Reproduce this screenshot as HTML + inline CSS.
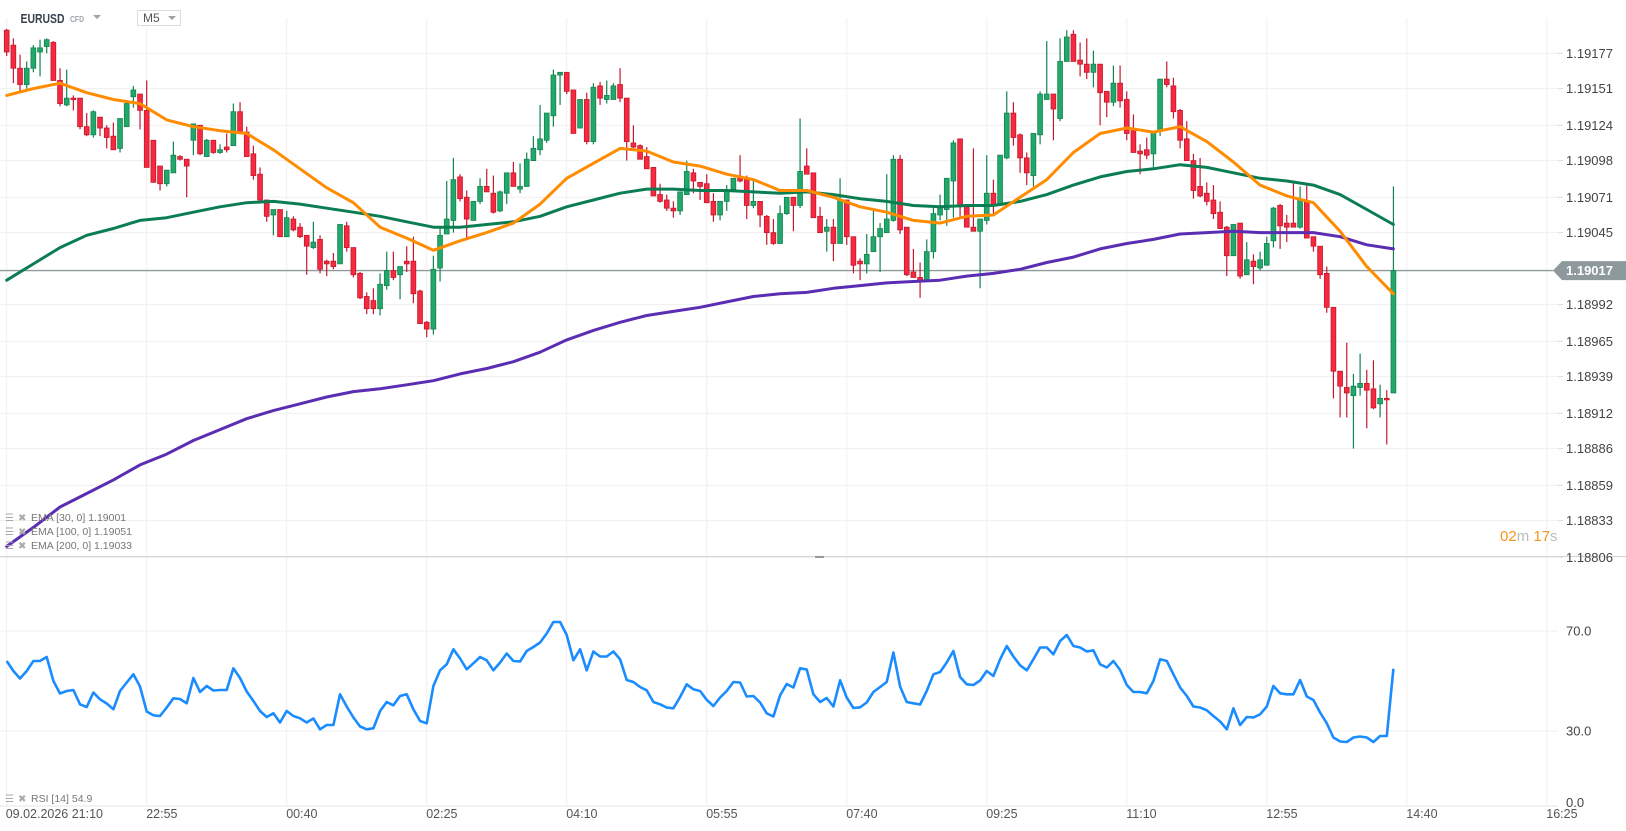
<!DOCTYPE html>
<html><head><meta charset="utf-8">
<style>
html,body{margin:0;padding:0;background:#fff;}
svg{display:block;font-family:"Liberation Sans",sans-serif;}
</style></head>
<body>
<svg id="chart" width="1626" height="831" viewBox="0 0 1626 831" xmlns="http://www.w3.org/2000/svg">
  <rect x="0" y="0" width="1626" height="831" fill="#fff"/>
  <g id="grid"></g>
  <g id="candles" clip-path="url(#mainClip)"></g>
  <g id="emas" clip-path="url(#mainClip)"></g>
  <g id="rsi"></g>
  <g id="axes"></g>
  <defs><clipPath id="mainClip"><rect x="0" y="18" width="1558" height="538"/></clipPath></defs>

  <g>
    <text x="20.5" y="23" font-size="13" font-weight="bold" fill="#37424d" textLength="44" lengthAdjust="spacingAndGlyphs">EURUSD</text>
    <text x="70" y="22" font-size="8" font-weight="bold" fill="#9aa3aa" textLength="14" lengthAdjust="spacingAndGlyphs">CFD</text>
    <path d="M93 15 L101 15 L97 19 Z" fill="#9aa3aa"/>
    <rect x="137.5" y="10.5" width="43" height="15" fill="#fff" stroke="#dcdcdc"/>
    <text x="143" y="22" font-size="12" fill="#555">M5</text>
    <path d="M168 16 L176 16 L172 20 Z" fill="#9aa3aa"/>
  </g>

  <g font-size="10.5" fill="#777">
    <g>
      <text x="5" y="521" font-size="10" fill="#aaa">☰</text><text x="18" y="521" font-size="10" fill="#aaa">✖</text>
      <text x="31" y="521">EMA [30,  0] 1.19001</text></g>
    <g>
      <text x="5" y="535" font-size="10" fill="#aaa">☰</text><text x="18" y="535" font-size="10" fill="#aaa">✖</text>
      <text x="31" y="535">EMA [100,  0] 1.19051</text></g>
    <g>
      <text x="5" y="549" font-size="10" fill="#aaa">☰</text><text x="18" y="549" font-size="10" fill="#aaa">✖</text>
      <text x="31" y="549">EMA [200,  0] 1.19033</text></g>
  </g>
  <g font-size="10.5" fill="#777">
    <text x="5" y="802" font-size="10" fill="#aaa">☰</text><text x="18" y="802" font-size="10" fill="#aaa">✖</text>
    <text x="31" y="802">RSI [14]  54.9</text>
  </g>

  <g font-size="15">
    <text x="1500" y="541"><tspan fill="#f7931e">02</tspan><tspan fill="#bbb">m </tspan><tspan fill="#f7931e">17</tspan><tspan fill="#bbb">s</tspan></text>
  </g>
</svg>
<script>
const priceTicks = [1.19177,1.19151,1.19124,1.19098,1.19071,1.19045,1.18992,1.18965,1.18939,1.18912,1.18886,1.18859,1.18833,1.18806];
const timeLabels = ["09.02.2026  21:10","22:55","00:40","02:25","04:10","05:55","07:40","09:25","11:10","12:55","14:40","16:25"];
const timeLabelBars = [0,21,42,63,84,105,126,147,168,189,210,231];
const rsiTicks = [70,30,0];
const lastPrice = 1.19017;

const open = [
1.19194,1.19183,1.19166,1.19154,1.19166,1.19178,1.19182,1.19185,1.19157,1.19139,
1.19144,1.19144,1.19123,1.19117,1.19130,1.19122,1.19116,1.19107,1.19123,1.19145,
1.19147,1.19135,1.19113,1.19094,1.19081,1.19089,1.19101,1.19099,1.19113,1.19124,
1.19101,1.19113,1.19104,1.19108,1.19109,1.19134,1.19119,1.19103,1.19088,1.19069,
1.19058,1.19062,1.19042,1.19055,1.19049,1.19043,1.19034,1.19040,1.19024,1.19024,
1.19022,1.19050,1.19034,1.19015,1.18998,1.18995,1.18989,1.19006,1.19017,1.19014,
1.19024,1.19024,1.19002,1.18979,1.18974,1.19019,1.19044,1.19054,1.19086,1.19071,
1.19054,1.19068,1.19079,1.19074,1.19061,1.19074,1.19089,1.19077,1.19079,1.19098,
1.19106,1.19113,1.19131,1.19161,1.19163,1.19150,1.19122,1.19143,1.19112,1.19153,
1.19143,1.19143,1.19154,1.19144,1.19111,1.19109,1.19101,1.19093,1.19073,1.19069,
1.19063,1.19061,1.19073,1.19089,1.19082,1.19081,1.19068,1.19058,1.19068,1.19077,
1.19085,1.19085,1.19065,1.19068,1.19057,1.19045,1.19037,1.19059,1.19071,1.19065,
1.19094,1.19089,1.19057,1.19046,1.19049,1.19037,1.19069,1.19042,1.19024,1.19022,
1.19031,1.19042,1.19045,1.19054,1.19099,1.19049,1.19016,1.19012,1.19009,1.19031,
1.19058,1.19062,1.19083,1.19114,1.19064,1.19049,1.19046,1.19054,1.19074,1.19065,
1.19100,1.19133,1.19117,1.19100,1.19087,1.19117,1.19143,1.19147,1.19129,1.19171,
1.19191,1.19172,1.19169,1.19163,1.19169,1.19149,1.19141,1.19155,1.19143,1.19120,
1.19105,1.19106,1.19103,1.19120,1.19158,1.19153,1.19135,1.19114,1.19098,1.19079,
1.19074,1.19069,1.19060,1.19049,1.19028,1.19052,1.19014,1.19024,1.19019,1.19021,
1.19039,1.19065,1.19052,1.19052,1.19049,1.19068,1.19042,1.19035,1.19015,1.18990,
1.18943,1.18931,1.18925,1.18931,1.18934,1.18930,1.18919,1.18923,1.18927];
const high = [
1.19195,1.19188,1.19176,1.19171,1.19183,1.19187,1.19188,1.19186,1.19166,1.19165,
1.19146,1.19144,1.19133,1.19135,1.19130,1.19124,1.19126,1.19129,1.19142,1.19153,
1.19147,1.19157,1.19113,1.19094,1.19091,1.19112,1.19102,1.19099,1.19125,1.19124,
1.19114,1.19113,1.19110,1.19118,1.19140,1.19141,1.19123,1.19109,1.19093,1.19069,
1.19062,1.19062,1.19061,1.19057,1.19052,1.19043,1.19053,1.19043,1.19025,1.19030,
1.19051,1.19053,1.19034,1.19016,1.19001,1.19004,1.19015,1.19031,1.19031,1.19020,
1.19035,1.19042,1.19003,1.18980,1.19028,1.19048,1.19083,1.19100,1.19088,1.19076,
1.19068,1.19085,1.19092,1.19087,1.19076,1.19089,1.19097,1.19096,1.19104,1.19116,
1.19139,1.19133,1.19165,1.19163,1.19163,1.19150,1.19143,1.19148,1.19155,1.19156,
1.19157,1.19155,1.19166,1.19144,1.19124,1.19110,1.19108,1.19093,1.19081,1.19073,
1.19068,1.19075,1.19098,1.19092,1.19082,1.19088,1.19074,1.19068,1.19080,1.19085,
1.19102,1.19087,1.19083,1.19068,1.19058,1.19055,1.19065,1.19071,1.19071,1.19129,
1.19107,1.19089,1.19064,1.19055,1.19055,1.19085,1.19069,1.19042,1.19026,1.19044,
1.19063,1.19052,1.19088,1.19102,1.19102,1.19049,1.19033,1.19023,1.19040,1.19065,
1.19073,1.19085,1.19113,1.19114,1.19064,1.19107,1.19055,1.19102,1.19084,1.19102,
1.19149,1.19141,1.19118,1.19104,1.19118,1.19149,1.19186,1.19147,1.19188,1.19194,
1.19194,1.19185,1.19188,1.19179,1.19169,1.19149,1.19168,1.19168,1.19149,1.19132,
1.19110,1.19115,1.19120,1.19158,1.19171,1.19159,1.19136,1.19127,1.19103,1.19100,
1.19082,1.19080,1.19068,1.19050,1.19051,1.19052,1.19038,1.19029,1.19031,1.19042,
1.19064,1.19066,1.19058,1.19083,1.19079,1.19081,1.19042,1.19035,1.19020,1.18990,
1.18943,1.18964,1.18941,1.18956,1.18944,1.18951,1.18933,1.18929,1.19079];
const low = [
1.19175,1.19155,1.19149,1.19151,1.19163,1.19160,1.19177,1.19157,1.19138,1.19138,
1.19135,1.19121,1.19116,1.19115,1.19116,1.19107,1.19106,1.19104,1.19123,1.19137,
1.19121,1.19093,1.19082,1.19076,1.19079,1.19089,1.19098,1.19071,1.19102,1.19102,
1.19101,1.19103,1.19103,1.19104,1.19109,1.19118,1.19101,1.19084,1.19069,1.19053,
1.19043,1.19042,1.19042,1.19046,1.19041,1.19014,1.19033,1.19015,1.19013,1.19018,
1.19022,1.19031,1.19012,1.18996,1.18985,1.18985,1.18984,1.19003,1.19010,1.18996,
1.19016,1.18993,1.18978,1.18968,1.18970,1.19009,1.19044,1.19045,1.19068,1.19041,
1.19054,1.19066,1.19075,1.19059,1.19060,1.19066,1.19079,1.19074,1.19079,1.19098,
1.19102,1.19111,1.19123,1.19139,1.19147,1.19118,1.19122,1.19110,1.19110,1.19139,
1.19140,1.19143,1.19141,1.19098,1.19107,1.19099,1.19092,1.19072,1.19067,1.19061,
1.19056,1.19058,1.19073,1.19074,1.19069,1.19067,1.19053,1.19054,1.19061,1.19077,
1.19082,1.19055,1.19063,1.19049,1.19036,1.19036,1.19037,1.19058,1.19046,1.19063,
1.19088,1.19056,1.19045,1.19031,1.19024,1.19037,1.19036,1.19015,1.19010,1.19015,
1.19031,1.19016,1.19045,1.19053,1.19044,1.19013,1.19012,1.18997,1.19009,1.19026,
1.19054,1.19050,1.19056,1.19056,1.19049,1.19046,1.19004,1.19051,1.19059,1.19065,
1.19099,1.19109,1.19089,1.19080,1.19079,1.19110,1.19143,1.19113,1.19127,1.19171,
1.19171,1.19160,1.19158,1.19152,1.19124,1.19130,1.19138,1.19137,1.19113,1.19104,
1.19088,1.19099,1.19093,1.19116,1.19152,1.19129,1.19107,1.19098,1.19070,1.19071,
1.19065,1.19055,1.19048,1.19013,1.19028,1.19011,1.19014,1.19007,1.19017,1.19021,
1.19034,1.19033,1.19038,1.19049,1.19048,1.19041,1.19031,1.19011,1.18986,1.18923,
1.18909,1.18909,1.18886,1.18925,1.18901,1.18915,1.18909,1.18889,1.18927];
const close = [
1.19178,1.19166,1.19154,1.19166,1.19181,1.19181,1.19187,1.19157,1.19140,1.19144,
1.19143,1.19123,1.19117,1.19134,1.19122,1.19115,1.19106,1.19129,1.19140,1.19150,
1.19135,1.19093,1.19082,1.19081,1.19091,1.19102,1.19099,1.19094,1.19125,1.19103,
1.19113,1.19104,1.19106,1.19106,1.19134,1.19119,1.19101,1.19087,1.19069,1.19057,
1.19062,1.19042,1.19056,1.19047,1.19042,1.19035,1.19038,1.19018,1.19022,1.19020,
1.19051,1.19034,1.19014,1.18997,1.18989,1.18989,1.19007,1.19017,1.19012,1.19020,
1.19022,1.19000,1.18978,1.18974,1.19018,1.19043,1.19055,1.19084,1.19070,1.19055,
1.19068,1.19079,1.19075,1.19060,1.19075,1.19089,1.19079,1.19079,1.19099,1.19107,
1.19114,1.19133,1.19161,1.19163,1.19149,1.19118,1.19143,1.19112,1.19152,1.19144,
1.19146,1.19153,1.19144,1.19112,1.19108,1.19099,1.19092,1.19072,1.19068,1.19063,
1.19061,1.19075,1.19090,1.19083,1.19079,1.19067,1.19058,1.19068,1.19076,1.19085,
1.19083,1.19065,1.19068,1.19058,1.19045,1.19037,1.19059,1.19071,1.19065,1.19090,
1.19088,1.19056,1.19045,1.19049,1.19037,1.19069,1.19042,1.19021,1.19022,1.19029,
1.19042,1.19048,1.19055,1.19099,1.19047,1.19014,1.19012,1.19010,1.19031,1.19059,
1.19063,1.19085,1.19111,1.19064,1.19049,1.19046,1.19055,1.19074,1.19065,1.19102,
1.19133,1.19115,1.19100,1.19089,1.19118,1.19147,1.19147,1.19136,1.19171,1.19189,
1.19171,1.19169,1.19163,1.19169,1.19148,1.19141,1.19155,1.19142,1.19118,1.19104,
1.19103,1.19102,1.19119,1.19158,1.19154,1.19134,1.19113,1.19098,1.19076,1.19072,
1.19068,1.19059,1.19048,1.19028,1.19051,1.19013,1.19025,1.19020,1.19025,1.19037,
1.19063,1.19050,1.19049,1.19049,1.19069,1.19041,1.19035,1.19014,1.18990,1.18943,
1.18932,1.18927,1.18932,1.18934,1.18929,1.18916,1.18923,1.18922,1.19017];

const emaBars = [0,4,8,12,16,20,24,28,32,36,40,44,48,52,56,60,64,68,72,76,80,84,88,92,96,100,104,108,112,116,120,124,128,132,136,140,144,148,152,156,160,164,168,172,176,180,184,188,192,196,200,204,208];
const ema30 = [1.19146,1.19151,1.19155,1.19148,1.19143,1.19140,1.19128,1.19123,1.19120,1.19118,
1.19106,1.19092,1.19078,1.19067,1.19049,1.19041,1.19032,1.19039,1.19045,1.19052,
1.19066,1.19085,1.19096,1.19107,1.19105,1.19097,1.19094,1.19088,1.19084,1.19076,
1.19076,1.19071,1.19064,1.19060,1.19054,1.19052,1.19057,1.19058,1.19071,1.19084,
1.19104,1.19118,1.19122,1.19119,1.19123,1.19112,1.19097,1.19080,1.19072,1.19067,
1.19046,1.19020,1.19000];
const ema100 = [1.19010,1.19022,1.19034,1.19043,1.19048,1.19054,1.19056,1.19060,1.19064,1.19067,
1.19068,1.19066,1.19063,1.19060,1.19057,1.19053,1.19049,1.19049,1.19051,1.19053,
1.19057,1.19064,1.19069,1.19074,1.19077,1.19077,1.19076,1.19076,1.19075,1.19074,
1.19075,1.19073,1.19070,1.19068,1.19065,1.19064,1.19065,1.19065,1.19068,1.19073,
1.19080,1.19086,1.19090,1.19092,1.19095,1.19093,1.19089,1.19085,1.19083,1.19080,
1.19073,1.19062,1.19051];
const ema200 = [1.18814,1.18828,1.18843,1.18853,1.18863,1.18874,1.18882,1.18892,1.18900,1.18908,
1.18914,1.18919,1.18924,1.18928,1.18930,1.18933,1.18936,1.18941,1.18945,1.18950,
1.18957,1.18966,1.18973,1.18979,1.18984,1.18987,1.18990,1.18994,1.18998,1.19000,
1.19001,1.19004,1.19006,1.19008,1.19009,1.19010,1.19013,1.19015,1.19018,1.19023,
1.19027,1.19033,1.19037,1.19040,1.19044,1.19045,1.19046,1.19045,1.19045,1.19045,
1.19042,1.19036,1.19033];

const rsi = [58,54,51,54,58,58,59.6,50,45,46,
46.4,40.7,39.6,45.4,42.7,41,38.7,46,49.4,52.7,
47.8,37.8,36.3,36,39.4,43.1,42.8,41.1,51.2,45.6,
48,46.2,46.4,46.4,55.1,51.2,45.8,42,38,35.6,
37.1,33.4,38,36,35.1,33.4,35,30.7,32.4,32.4,
44.7,39.8,35.4,31.8,30.7,31.1,38,41.6,40.3,44,
44.7,38.7,34,33.1,48,54.3,56.7,62.7,59,54.7,
57.1,59.6,58.3,54.3,57.4,61,58,57.8,62,63.6,
65.4,69,73.6,73.6,68.4,58.3,62.7,54.3,61.8,59.8,
59.8,61.8,58.7,50.4,49.6,47.6,46.3,41.6,40.7,39.4,
39.1,43.6,48.7,46.7,46,42.5,40,43.4,46,49.6,
49.4,43.8,44,41.4,37.1,35.8,44.3,48.8,47.4,55.1,
54.6,44.7,41.6,43.2,39.8,50.3,43.4,39.2,39.5,41.4,
45.6,47.6,49.6,61.4,47.8,41.6,41.1,40.6,46,52.7,
53.6,57.4,62,51.6,48.7,48.4,50.2,54,52,58.7,
64,59.8,56.3,54.3,58.7,63.4,63.4,60.7,66,68.4,
64,63.4,61.8,62.3,56.7,55.4,58,54.4,48.4,45.6,
45.6,45.1,50,58.7,58,52.7,47.4,44,39.8,39.4,
38.3,36,33.8,30.7,39.1,32.4,35.6,35.4,36.7,39.8,
48,45.1,44.7,44.7,50.4,43.8,42.4,37.4,33.1,27.4,
25.8,25.6,27.4,27.8,27.4,25.6,28,28,54.9];

const NS = "http://www.w3.org/2000/svg";
function xOf(i){ return 6.7 + i*6.667; }
function yP(p){ return 53.3 + (1.19177 - p)*135850; }
function yR(v){ return 806 - 2.5*v; }
function mk(tag, attrs, parent){
  const e = document.createElementNS(NS, tag);
  for (const k in attrs) e.setAttribute(k, attrs[k]);
  parent.appendChild(e);
  return e;
}

const grid = document.getElementById('grid');
for (let g = 0; g <= 11; g++) {
  const x = xOf(g*21);
  const l = mk('line', {x1:x, x2:x, y1:18, y2:806, stroke:'#efefef', 'stroke-width':1}, grid);
  
  
}
const allTicks = priceTicks.slice();
allTicks.splice(6, 0, 1.19018);
allTicks.forEach(function(p){
  const y = yP(p);
  const l = mk('line', {x1:0, x2:1558, y1:y, y2:y, stroke:'#efefef', 'stroke-width':1}, grid);
  
  
});
[70,30].forEach(function(v){
  const l = mk('line', {x1:0, x2:1558, y1:yR(v), y2:yR(v), stroke:'#efefef', 'stroke-width':1}, grid);
  
  
});
const sep = mk('line', {x1:0, x2:1626, y1:556.5, y2:556.5, stroke:'#d6d6d6', 'stroke-width':1.2}, grid);


const handle = mk('rect', {x:815, y:556, width:9, height:2, fill:'#999'}, grid);


const bot = mk('line', {x1:0, x2:1558, y1:806, y2:806, stroke:'#e6e6e6', 'stroke-width':1}, grid);



const lpY = yP(lastPrice);
const lpl = mk('line', {x1:0, x2:1553, y1:lpY, y2:lpY, stroke:'#8e999e', 'stroke-width':1.2}, grid);



const cg = document.getElementById('candles');
for (let i = 0; i < open.length; i++) {
  const up = close[i] >= open[i];
  const fill = up ? '#22a86b' : '#f5293f';
  const edge = up ? '#12834f' : '#c4182c';
  const x = xOf(i);
  const g = mk('g', {}, cg);
  
  
  mk('line', {x1:x, x2:x, y1:yP(high[i]), y2:yP(low[i]), stroke:edge, 'stroke-width':1.2}, g);
  const top = yP(Math.max(open[i], close[i]));
  const h = Math.max(1.5, yP(Math.min(open[i], close[i])) - top);
  mk('rect', {x:x-2.4, y:top, width:4.8, height:h, fill:fill, stroke:edge, 'stroke-width':0.8}, g);
}

const eg = document.getElementById('emas');
function emaLine(vals, color, name){
  const pts = vals.map(function(v, j){ return xOf(emaBars[j]).toFixed(1) + ',' + yP(v).toFixed(1); }).join(' ');
  const pl = mk('polyline', {points:pts, fill:'none', stroke:color, 'stroke-width':3, 'stroke-linejoin':'round', 'stroke-linecap':'round'}, eg);
  
  
}
emaLine(ema200, '#5a2db3', 'ema200-line');
emaLine(ema100, '#0b7d52', 'ema100-line');
emaLine(ema30, '#ff8c00', 'ema30-line');

const rg = document.getElementById('rsi');
const rpts = rsi.map(function(v, i){ return xOf(i).toFixed(1) + ',' + yR(v).toFixed(1); }).join(' ');
const rl = mk('polyline', {points:rpts, fill:'none', stroke:'#1a8cff', 'stroke-width':2.6, 'stroke-linejoin':'round'}, rg);



const ax = document.getElementById('axes');
priceTicks.forEach(function(p){
  const y = yP(p);
  const t = mk('line', {x1:1558, x2:1563, y1:y, y2:y, stroke:'#ddd'}, ax);
  
  
  const tx = mk('text', {x:1566, y:y+4.5, 'font-size':13, fill:'#444'}, ax);
  tx.textContent = p.toFixed(5);
  
  
});
rsiTicks.forEach(function(v){
  const y = yR(v);
  const tx = mk('text', {x:1566, y:v === 0 ? y+1 : y+4.5, 'font-size':13, fill:'#444'}, ax);
  tx.textContent = v.toFixed(1);
  
  
});
timeLabels.forEach(function(s, j){
  const tx = mk('text', {x:xOf(timeLabelBars[j]) - (j === 0 ? 1 : 0.5), y:818, 'font-size':12.5, fill:'#555', 'xml:space':'preserve'}, ax);
  tx.textContent = s;
  
  
});
const lb = mk('polygon', {points:'1553,' + lpY + ' 1562,' + (lpY-9.5) + ' 1626,' + (lpY-9.5) + ' 1626,' + (lpY+9.5) + ' 1562,' + (lpY+9.5), fill:'#8e999e'}, ax);


const lt = mk('text', {x:1566, y:lpY+4.5, 'font-size':13, 'font-weight':'bold', fill:'#fff'}, ax);
lt.textContent = lastPrice.toFixed(5);


</script>
</body></html>
